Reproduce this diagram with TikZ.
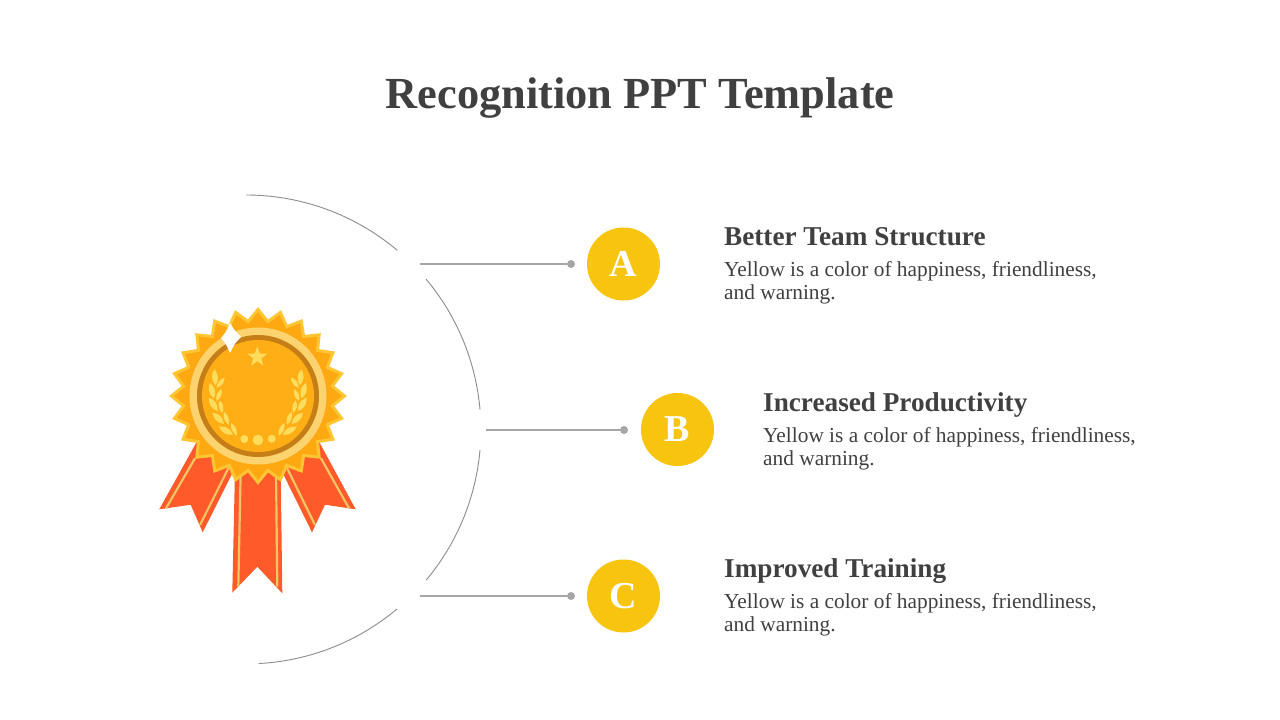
\documentclass[tikz,border=0pt]{standalone}
\usepackage{fontspec}
\setmainfont{Liberation Serif}
\definecolor{inktext}{HTML}{404040}
\definecolor{badge}{HTML}{F7C40F}
\definecolor{linegray}{HTML}{A6A6A6}
\definecolor{arcgray}{HTML}{8C8C8C}
\definecolor{ribbon}{HTML}{FF5A2A}
\definecolor{stripe}{HTML}{F2C464}
\definecolor{burst}{HTML}{FFA912}
\definecolor{burstedge}{HTML}{FFC533}
\definecolor{ringpale}{HTML}{FDD36F}
\definecolor{ringdark}{HTML}{C67F17}
\definecolor{disc}{HTML}{FFAE16}
\definecolor{laurel}{HTML}{FFDD5C}
\tikzset{
  title/.style={text=inktext,font=\fontsize{44.4}{44}\selectfont\bfseries,inner sep=0pt,anchor=base},
  head/.style={text=inktext,font=\fontsize{27.2}{27}\selectfont\bfseries,inner sep=0pt,anchor=base west},
  body/.style={text=inktext,font=\fontsize{21.35}{23}\selectfont,inner sep=0pt,anchor=base west},
  letter/.style={circle,fill=badge,text=white,minimum size=73pt,inner sep=0pt,font=\fontsize{38}{38}\selectfont\bfseries},
  pin/.style={circle,fill=linegray,minimum size=8pt,inner sep=0pt},
  lead/.style={draw=linegray,line width=1.6pt},
  arc line/.style={draw=arcgray,line width=.9pt},
  band/.style={fill=ribbon},
  band stripe/.style={draw=stripe,line width=2.2pt},
}
\begin{document}
\begin{tikzpicture}[x=1pt,y=-1pt]
\useasboundingbox (0,0) rectangle (1280,720);
\fill[white] (0,0) rectangle (1280,720);
\node[title] (heading) at (640,108) {Recognition PPT Template};

\draw[arc line] (246,195) arc[start angle=-90,end angle=-49.8,radius=234.5];
\draw[arc line] (426,279) arc[start angle=-40,end angle=-5,radius=234.5];
\draw[arc line] (480,450) arc[start angle=5,end angle=40,radius=234.5];
\draw[arc line] (397,609) arc[start angle=50,end angle=87,radius=234.5];

\fill[band] (200,436)--(159.3,509.3)--(190.7,504.7)--(202.7,532.3)--(243,452)--(235,440)--cycle;
\fill[band] (316,436)--(355.7,509.3)--(325,504.7)--(312,532.3)--(272.3,452)--(281,440)--cycle;
\fill[band] (235,470)--(232.3,592.7)--(257.3,566.7)--(282.3,593.3)--(280.7,470)--cycle;
\draw[band stripe] (195,458.3)--(166,508.3) (231,463)--(200,525);
\draw[band stripe] (321,458.3)--(349,508.3) (284.6,463)--(315,525);
\draw[band stripe] (240.7,470)--(238.3,586.7) (276,470)--(277.3,586.7);

\filldraw[fill=burst,draw=burstedge,line width=3pt,miter limit=10]
  plot[samples at={0,...,47}] ({258+(mod(\x,2)==0?86.5:75)*cos(90+\x*7.5)},{396+(mod(\x,2)==0?86.5:75)*sin(90+\x*7.5)})--cycle;
\fill[ringpale] (258,396) circle[radius=68.5];
\fill[ringdark] (258,396) circle[radius=61];
\fill[disc] (258,396) circle[radius=56];

\foreach \m in {1,-1}{
\begin{scope}[shift={(257.8,0)},xscale=\m]
\foreach \x/\y/\r/\l/\w in {42.8/77.3/5/8/4,45.8/90.7/15/8/4,44.5/104.3/33/8/4,39.5/118.3/45/8/4,31.8/130.7/60/8/4,
  37.1/82.7/-37/6.5/3,38.8/95/-23/6.5/3,36.8/106.7/11/6.5/3,31.5/118.3/20/7/3,23.8/129.3/24/7/3}{
\fill[laurel,shift={(-\x,\y+300)},rotate=\r] (0,-\l) .. controls (\w,-\l/3) and (\w,\l/3) .. (0,\l) .. controls (-\w,\l/3) and (-\w,-\l/3) .. (0,-\l)--cycle;
}
\end{scope}
}
\fill[laurel] (244.3,439) circle[radius=4] (258,440) circle[radius=5.3] (271.7,438.7) circle[radius=4];
\fill[laurel] plot[samples at={0,...,9}] ({257.3+(mod(\x,2)==0?10.5:4.3)*cos(-90+\x*36)},{357+(mod(\x,2)==0?10.5:4.3)*sin(-90+\x*36)})--cycle;
\fill[white] (230,323) .. controls (235,331) .. (241,337) .. controls (235,343) .. (230,353) .. controls (226,344) .. (221,338) .. controls (226,332) .. (230,323)--cycle;

\coordinate (startA) at (420,264);
\coordinate (startB) at (486,430);
\coordinate (startC) at (420,596);
\node[pin] (pinA) at (571,264) {};
\node[pin] (pinB) at (624,430) {};
\node[pin] (pinC) at (571,596) {};
\draw[lead] (startA)--(pinA);
\draw[lead] (startB)--(pinB);
\draw[lead] (startC)--(pinC);
\node[letter] (badgeA) at (623.5,264) {A};
\node[letter] (badgeB) at (677.5,429.5) {B};
\node[letter] (badgeC) at (623.5,596) {C};

\node[head] (headA) at (724,245) {Better Team Structure};
\node[body] (bodyA) at (724,276) {Yellow is a color of happiness, friendliness,};
\node[body] (moreA) at (724,299) {and warning.};
\node[head] (headB) at (763,411) {Increased Productivity};
\node[body] (bodyB) at (763,442) {Yellow is a color of happiness, friendliness,};
\node[body] (moreB) at (763,465) {and warning.};
\node[head] (headC) at (724,577) {Improved Training};
\node[body] (bodyC) at (724,608) {Yellow is a color of happiness, friendliness,};
\node[body] (moreC) at (724,631) {and warning.};
\end{tikzpicture}
\end{document}
